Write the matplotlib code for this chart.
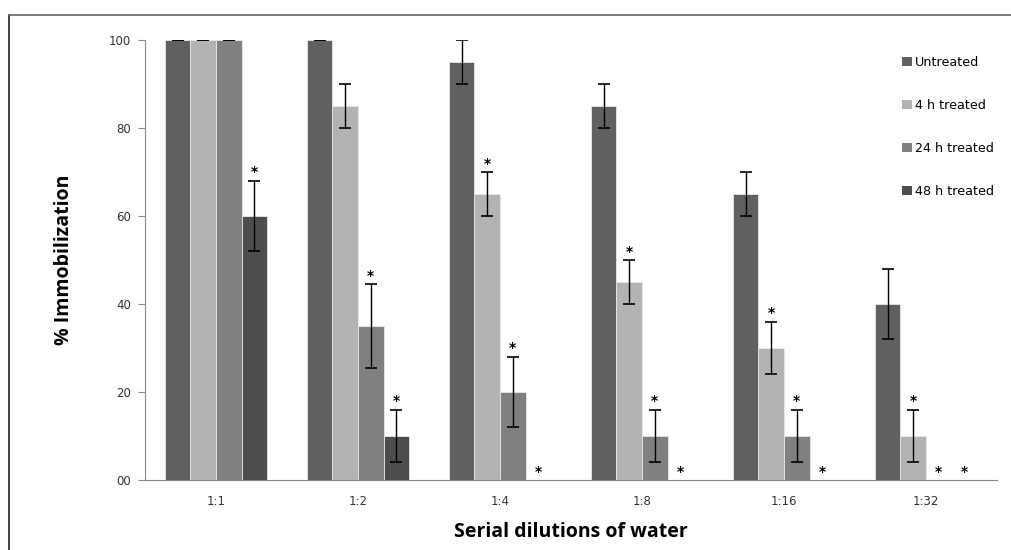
import numpy as np
import matplotlib
matplotlib.use("Agg")
import matplotlib.pyplot as plt
from matplotlib.lines import Line2D
from matplotlib.patches import Patch

dilutions = ["1:1", "1:2", "1:4", "1:8", "1:16", "1:32"]
series = ["Untreated", "4 h treated", "24 h treated", "48 h treated"]

untreated = [100, 100, 95, 85, 65, 40]
treated_4h = [100, 85, 65, 45, 30, 10]
treated_24h = [100, 35, 20, 10, 10, 0]
treated_48h = [60, 10, 0, 0, 0, 0]

err_untreated = [0, 0, 5, 5, 5, 8]
err_4h = [0, 5, 5, 5, 6, 6]
err_24h = [0, 9.5, 8, 6, 6, 0]
err_48h = [8, 6, 0, 0, 0, 0]

# significance stars (1 = starred)
star_untreated = [0, 0, 0, 0, 0, 0]
star_4h = [0, 0, 1, 1, 1, 1]
star_24h = [0, 1, 1, 1, 1, 1]
star_48h = [1, 1, 1, 1, 1, 1]

values = [untreated, treated_4h, treated_24h, treated_48h]
errors = [err_untreated, err_4h, err_24h, err_48h]
stars = [star_untreated, star_4h, star_24h, star_48h]
colors = ["#606060", "#b3b3b3", "#808080", "#4d4d4d"]

fig = plt.figure(figsize=(10.11, 5.5), dpi=100)
ax = fig.add_axes([145 / 1011, 70 / 550, 852 / 1011, 440 / 550])

# outer frame (left and top edges only, as in the original export)
fig.lines.append(Line2D([8.5 / 1011, 8.5 / 1011], [0, 535 / 550], transform=fig.transFigure,
                        color="#222222", lw=1.2))
fig.lines.append(Line2D([8.5 / 1011, 1], [535 / 550, 535 / 550], transform=fig.transFigure,
                        color="#666666", lw=1.2))

x = np.arange(len(dilutions)) + 0.5
w = 0.18
for k in range(4):
    xs = x + (k - 1.5) * w
    ax.bar(xs, values[k], width=w, color=colors[k], edgecolor="#e8e8e8",
           linewidth=0.6, label=series[k], zorder=2)
    for i in range(len(dilutions)):
        if values[k][i] > 0:
            ax.errorbar(xs[i], values[k][i], yerr=errors[k][i], fmt="none",
                        ecolor="black", elinewidth=1, capsize=4, capthick=1.2, zorder=3)
        if stars[k][i]:
            ytop = values[k][i] + errors[k][i]
            ax.text(xs[i], ytop + 1.0, "*", ha="center", va="baseline",
                    fontsize=10, fontweight="bold", color="black", zorder=4)

ax.set_xlim(0, 6)
ax.set_ylim(0, 100)
ax.set_xticks(x)
ax.set_xticklabels(dilutions, fontsize=8.5, color="#333333")
ax.tick_params(axis="x", length=0, pad=11)
ax.set_yticks([0, 20, 40, 60, 80, 100])
ax.set_yticklabels(["00", "20", "40", "60", "80", "100"], fontsize=8.5, color="#333333")
ax.tick_params(axis="y", length=5, color="#888888", direction="out", pad=5)

for s in ["top", "right"]:
    ax.spines[s].set_visible(False)
for s in ["left", "bottom"]:
    ax.spines[s].set_color("#888888")

ax.set_xlabel("Serial dilutions of water", fontsize=14, fontweight="bold",
              family="Open Sans", labelpad=10)
ax.set_ylabel("% Immobilization", fontsize=14, fontweight="bold",
              family="Open Sans", labelpad=25)

handles = [Patch(facecolor=c, edgecolor="none") for c in colors]
ax.legend(handles, series, loc="upper left", bbox_to_anchor=(0.875, 0.99),
          frameon=False, fontsize=9.2, handlelength=0.75, handleheight=0.75,
          handletextpad=0.25, labelspacing=2.35)

fig.savefig("out.png", dpi=100)
